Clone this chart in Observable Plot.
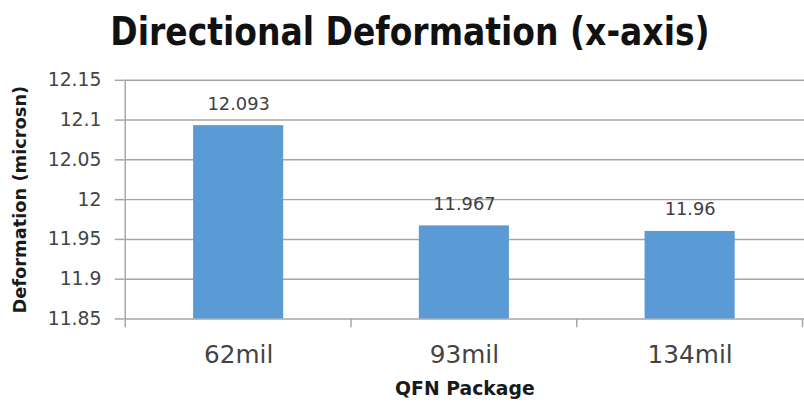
<!DOCTYPE html>
<html>
<head>
<meta charset="utf-8">
<script src="https://cdn.jsdelivr.net/npm/d3@7"></script>
<script src="https://cdn.jsdelivr.net/npm/@observablehq/plot@0.6"></script>
<style>
  html, body { margin: 0; padding: 0; background: #fff; overflow: hidden; width: 804px; height: 412px; }
  #title {
    width: 820px; height: 62px; line-height: 64px; text-align: center;
    font-family: "DejaVu Sans", sans-serif; font-weight: bold; font-size: 33px; color: #111;
    white-space: nowrap; transform: scaleY(1.18); transform-origin: 50% 50%;
  }
  #chart svg { display: block; }
</style>
</head>
<body>
<div id="title">Directional Deformation (x-axis)</div>
<div id="chart"></div>
<script>
// Deformation along x for each QFN package size
const packages = ["62mil", "93mil", "134mil"];
const deformation = [12.093, 11.967, 11.96];
const yTicks = [11.85, 11.9, 11.95, 12, 12.05, 12.1, 12.15];

const data = packages.map((pkg, i) => ({pkg, value: deformation[i]}));

const gridColor = "#a6a6a6";
const textColor = "#444";

// Tick marks on the category axis sit on the boundaries between bands
function bandBoundaries(index, scales, values, dimensions) {
  const x = scales.x;
  const bw = x.bandwidth();
  const step = x.step ? x.step() : x(packages[1]) - x(packages[0]);
  const bottom = dimensions.height - dimensions.marginBottom;
  const xs = packages.map(p => x(p) + bw / 2 - step / 2);
  xs.push(xs[xs.length - 1] + step);
  const g = d3.create("svg:g").attr("stroke", gridColor).attr("stroke-width", 1.5);
  g.selectAll("line").data(xs).join("line")
    .attr("x1", d => d).attr("x2", d => d)
    .attr("y1", (d, i) => i === 0 ? dimensions.marginTop : bottom)
    .attr("y2", bottom + 9);
  return g.node();
}

const chart = Plot.plot({
  width: 812,
  height: 350,
  marginTop: 18,
  marginBottom: 91,
  marginLeft: 126,
  marginRight: 0,
  style: {fontFamily: "DejaVu Sans, sans-serif", background: "#fff"},
  x: {domain: packages, paddingInner: 0.6, paddingOuter: 0.3},
  y: {domain: [11.85, 12.15]},
  marks: [
    Plot.gridY(yTicks, {stroke: gridColor, strokeOpacity: 1, strokeWidth: 1.5}),
    Plot.barY(data, {x: "pkg", y1: 11.85, y2: "value", fill: "#5b9bd5"}),
    Plot.text(data, {x: "pkg", y: "value", text: d => String(d.value), dy: -22, fontSize: 18, fill: "#404040"}),
    Plot.axisY({
      ticks: yTicks, tickSize: 10, tickPadding: 14, tickFormat: d => String(d),
      fontSize: 19, stroke: gridColor, strokeWidth: 1.5, fill: textColor, label: null
    }),
    Plot.axisY({
      ticks: [], label: "Deformation (microsn)", labelAnchor: "center", labelArrow: "none",
      labelOffset: 113, fontSize: 18, fontWeight: "bold", fill: "#1a1a1a"
    }),
    Plot.axisX({tickSize: 0, tickPadding: 27, fontSize: 25, fill: textColor, label: null}),
    Plot.axisX({
      ticks: [], label: "QFN Package", labelAnchor: "center", labelArrow: "none",
      labelOffset: 77, fontSize: 19, fontWeight: "bold", fill: "#1a1a1a"
    }),
    bandBoundaries
  ]
});

document.getElementById("chart").append(chart);
</script>
</body>
</html>
